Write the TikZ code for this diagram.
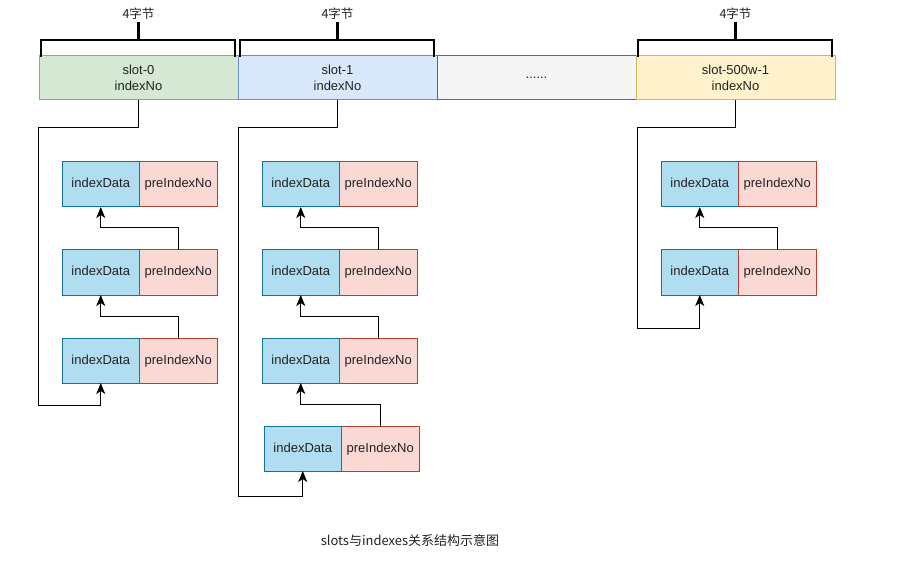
\documentclass[tikz,border=0pt]{standalone}
\usepackage{fontspec}
\setmainfont{Liberation Sans}
\newfontfamily\cjk{Noto Sans CJK SC}
\usepackage{xcolor}
\usepackage{tikz}
\usetikzlibrary{positioning, arrows.meta}

\definecolor{greenfill}{HTML}{D5E8D4}
\definecolor{greenline}{HTML}{82B366}
\definecolor{bluefill}{HTML}{DAE8FC}
\definecolor{blueline}{HTML}{6C8EBF}
\definecolor{grayfill}{HTML}{F5F5F5}
\definecolor{grayline}{HTML}{666666}
\definecolor{yellowfill}{HTML}{FFF2CC}
\definecolor{yellowline}{HTML}{D6B656}
\definecolor{datafill}{HTML}{B1DDF0}
\definecolor{dataline}{HTML}{10739E}
\definecolor{prefill}{HTML}{FAD9D5}
\definecolor{preline}{HTML}{AE4132}
\definecolor{txt}{HTML}{222222}

\tikzset{
  slotbox/.style={draw, line width=1pt, minimum width=199pt, minimum height=44pt, inner sep=0pt, outer sep=0pt, align=center, font=\fontsize{13}{15.5}\selectfont, text=txt},
  databox/.style={draw=dataline, fill=datafill, line width=1pt, minimum width=77.5pt, minimum height=45pt, inner sep=0pt, outer sep=0pt, text height=9.5pt, text depth=2.5pt, font=\fontsize{13}{15}\selectfont, text=txt},
  prebox/.style={draw=preline, fill=prefill, line width=1pt, minimum width=77.5pt, minimum height=45pt, inner sep=0pt, outer sep=0pt, text height=9.5pt, text depth=2.5pt, font=\fontsize{13}{15}\selectfont, text=txt},
  brace/.style={line width=2.5pt, line cap=rect},
  link/.style={line width=1pt, -{Stealth[length=11pt, width=9pt, inset=3pt]}},
  bytelabel/.style={font=\cjk\fontsize{12.5}{14}\selectfont, text=txt, inner sep=2pt}
}

\begin{document}
\begin{tikzpicture}[x=1pt, y=-1pt, node distance=43pt and 0pt]
		\useasboundingbox (0,0) rectangle (905,564);

		% Slots
		\node[slotbox, draw=greenline, fill=greenfill] (s0) at (138.5,78) {slot-0\\indexNo};
		\node[slotbox, draw=blueline, fill=bluefill, right=0pt of s0] (s1) {slot-1\\indexNo};
		\node[slotbox, draw=grayline, fill=grayfill, right=0pt of s1] (s2) {......};
		\node[slotbox, draw=yellowline, fill=yellowfill, right=0pt of s2] (s3) {slot-500w-1\\indexNo};

		% Byte brackets
		\foreach \s in {s0, s1, s3} {
			\draw[brace] ([xshift=2pt]\s.north west) -- ++(0,-16) -| ([xshift=-3pt]\s.north east);
			\draw[brace] ([yshift=16pt]\s.north) -- ++(0,-17) node[bytelabel, above] {4字节};
		}

		% Column of slot-0
		\node[databox] (dA1) at (100.75,184.5) {indexData};
		\node[prebox, right=of dA1] (pA1) {preIndexNo};
		\node[databox, below=of dA1] (dA2) {indexData};
		\node[prebox, right=of dA2] (pA2) {preIndexNo};
		\node[databox, below=of dA2] (dA3) {indexData};
		\node[prebox, right=of dA3] (pA3) {preIndexNo};

		% Column of slot-1
		\node[databox] (dB1) at (300.75,184.5) {indexData};
		\node[prebox, right=of dB1] (pB1) {preIndexNo};
		\node[databox, below=of dB1] (dB2) {indexData};
		\node[prebox, right=of dB2] (pB2) {preIndexNo};
		\node[databox, below=of dB2] (dB3) {indexData};
		\node[prebox, right=of dB3] (pB3) {preIndexNo};
		\node[databox, below=of dB3, xshift=2pt] (dB4) {indexData};
		\node[prebox, right=of dB4] (pB4) {preIndexNo};

		% Column of slot-500w-1
		\node[databox] (dC1) at (699.75,184.5) {indexData};
		\node[prebox, right=of dC1] (pC1) {preIndexNo};
		\node[databox, below=of dC1] (dC2) {indexData};
		\node[prebox, right=of dC2] (pC2) {preIndexNo};

		% Corners of the slot links
		\coordinate (cA) at (38,405);
		\coordinate (cB) at (238,496);
		\coordinate (cC) at (637,328);

		% Links
		\draw[link] (s0.south) -- ++(0,28) -| (cA) -| (dA3.south);
		\draw[link] (pA3.north) -- ++(0,-22) -| (dA2.south);
		\draw[link] (pA2.north) -- ++(0,-22) -| (dA1.south);

		\draw[link] (s1.south) -- ++(0,28) -| (cB) -| (dB4.south);
		\draw[link] (pB4.north) -- ++(0,-22) -| (dB3.south);
		\draw[link] (pB3.north) -- ++(0,-22) -| (dB2.south);
		\draw[link] (pB2.north) -- ++(0,-22) -| (dB1.south);

		\draw[link] (s3.south) -- ++(0,28) -| (cC) -| (dC2.south);
		\draw[link] (pC2.north) -- ++(0,-22) -| (dC1.south);

		% Caption
		\node[font=\cjk\fontsize{13}{15}\selectfont, text=txt] (caption) at (410,541) {slots与indexes关系结构示意图};
	\end{tikzpicture}
\end{document}
